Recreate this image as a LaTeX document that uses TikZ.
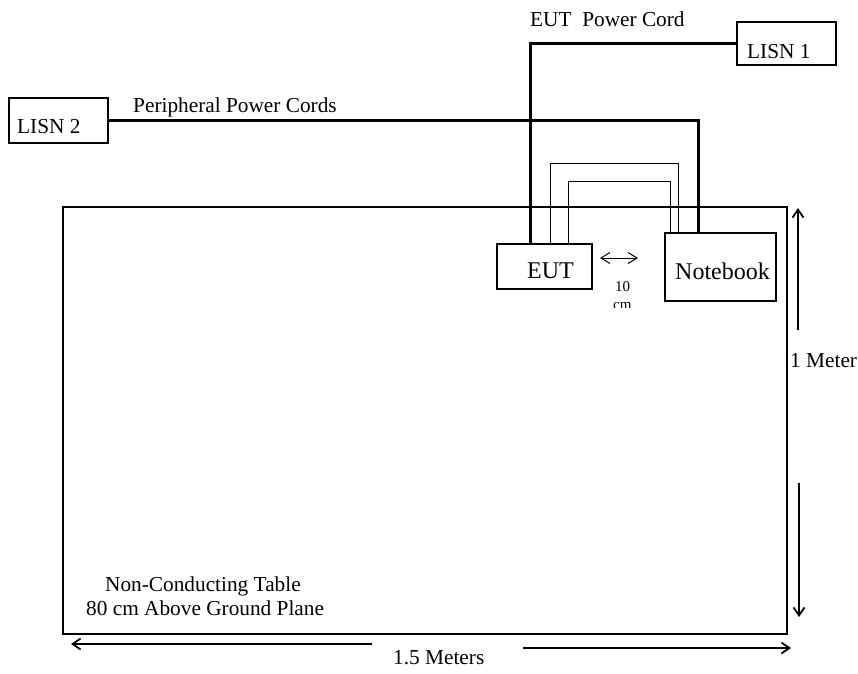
\documentclass[tikz,border=0pt]{standalone}
\usepackage{fontspec}
\setmainfont{Liberation Serif}
\usetikzlibrary{calc,arrows.meta}
\begin{document}
\begin{tikzpicture}[x=1pt,y=-1pt,
  box/.style={draw,line width=1.5pt,inner sep=0pt,rectangle},
  tablebox/.style={draw,line width=2.2pt,inner sep=0pt,rectangle},
  cord/.style={line width=3pt},
  cable/.style={line width=1.2pt},
  dim/.style={line width=1.3pt,-{Straight Barb[length=8pt,width=11pt,line width=1.8pt]}},
  dimtwo/.style={line width=1pt,{Straight Barb[length=9pt,width=11pt,line width=1pt]}-{Straight Barb[length=9pt,width=11pt,line width=1pt]}},
  txt/.style={anchor=base west,inner sep=0pt,font=\fontsize{21.3}{25}\selectfont},
  big/.style={anchor=base west,inner sep=0pt,font=\fontsize{24}{28}\selectfont},
  small/.style={anchor=base west,inner sep=0pt,font=\fontsize{15}{18}\selectfont}]
\useasboundingbox (0,0) rectangle (858,673);
\fill[white] (0,0) rectangle (858,673);

% boxes
\node[tablebox,minimum width=724pt,minimum height=427pt] (table) at (425,420.5) {};
\node[box,minimum width=95pt,minimum height=45pt] (eut) at (544.5,266.5) {};
\node[box,minimum width=111pt,minimum height=68pt] (nb) at (720.5,267) {};
\node[box,minimum width=99pt,minimum height=43pt] (lisn1) at (786.5,43.5) {};
\node[box,minimum width=99pt,minimum height=45pt] (lisn2) at (58.5,120.5) {};

% texts
\node[txt] (t-eutcord) at (530,26) {EUT\ \ Power Cord};
\node[txt] (t-peri) at (133,112) {Peripheral Power Cords};
\node[txt] (t-lisn1) at (747,58) {LISN 1};
\node[txt] (t-lisn2) at (17,133) {LISN 2};
\node[big] (t-eut) at (527,278) {EUT};
\node[big] (t-nb) at (675,279) {Notebook};
\node[small] (t-10) at (615,291) {10};
\begin{scope}
  \clip (600,295) rectangle (645,307.5);
  \node[small] (t-cm) at (613,309) {cm};
\end{scope}
\node[txt] (t-meter) at (790,367) {1 Meter};
\node[txt] (t-table1) at (105,591) {Non-Conducting Table};
\node[txt] (t-table2) at (86,615) {80 cm Above Ground Plane};
\node[txt] (t-15) at (393,664) {1.5 Meters};

% power cords
\draw[cord] ($(eut.north west)+(34,0)$) |- (lisn1.west);
\draw[cord] (lisn2.east) -| ($(nb.north west)+(34,0)$);

% cables
\draw[cable] ($(eut.north west)+(54,0)$) -- ++(0,-80) -| ($(nb.north west)+(14,0)$);
\draw[cable] ($(eut.north west)+(72,0)$) -- ++(0,-62) -| ($(nb.north west)+(6,0)$);

% dimension arrows
\coordinate (d10a) at (600,258);
\coordinate (d10b) at (638,258);
\draw[dimtwo] (d10a) -- (d10b);

\coordinate (m1a) at (798,330);
\coordinate (m1b) at (798,208);
\draw[dim] (m1a) -- (m1b);
\coordinate (m2a) at (799,483);
\coordinate (m2b) at (799,617);
\draw[dim] (m2a) -- (m2b);

\coordinate (w1a) at (372,644);
\coordinate (w1b) at (71,644);
\draw[dim] (w1a) -- (w1b);
\coordinate (w2a) at (523,648);
\coordinate (w2b) at (791,648);
\draw[dim] (w2a) -- (w2b);
\end{tikzpicture}
\end{document}
